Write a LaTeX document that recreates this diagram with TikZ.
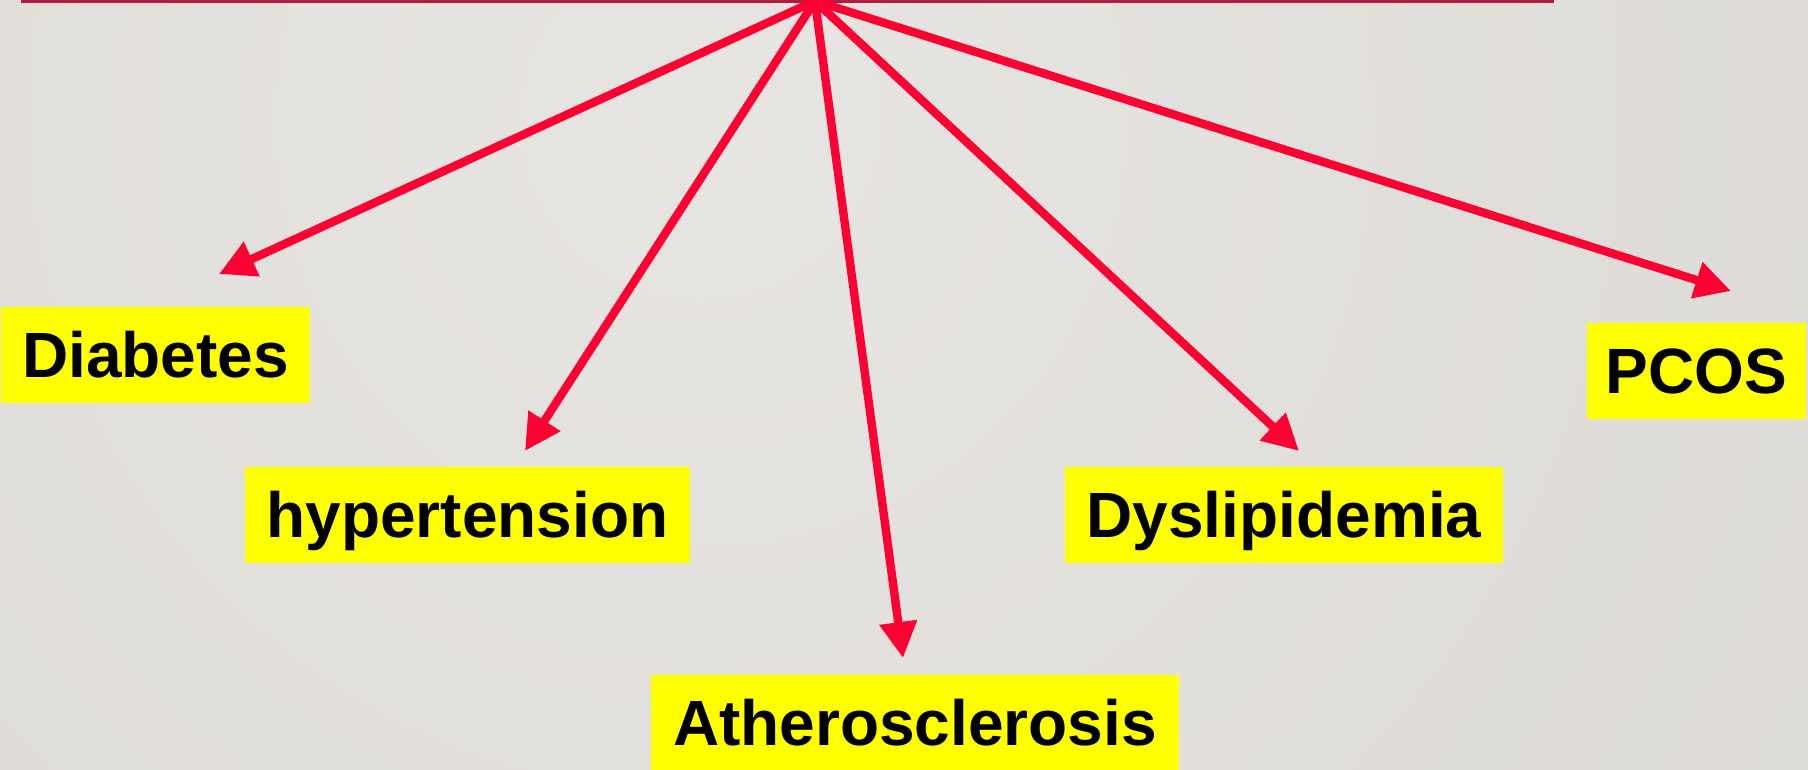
\documentclass[tikz,border=0pt]{standalone}
\usepackage{fontspec}
\setmainfont{Liberation Sans}
\definecolor{arrowred}{HTML}{FF0033}
\definecolor{barred}{HTML}{B31B3F}
\definecolor{boxyellow}{HTML}{FFFF00}
\definecolor{bglight}{HTML}{E7E5E1}
\definecolor{bgdark}{HTML}{D6D3CE}
\usetikzlibrary{
    arrows.meta,
    positioning,
}
\tikzset{
    >={Triangle[length=18pt,width=18pt]},
    disease/.style={fill=boxyellow,inner sep=0pt,minimum height=48pt,text height=22pt,text depth=0pt,font=\fontsize{32pt}{36pt}\selectfont\bfseries},
    link/.style={->,draw=arrowred,line width=4.2pt},
}

\begin{document}
\begin{tikzpicture}[x=0.5pt,y=-0.5pt]
    \useasboundingbox (0,0) rectangle (1808,770);
    \begin{scope}
        \clip (0,0) rectangle (1808,770);
        \shade[inner color=bglight,outer color=bgdark] (700,120) circle (1100pt);
    \end{scope}
    \draw[barred,line width=1.5pt] (21,1.5) -- (1554,1.5);

    \node[disease,minimum width=154.5pt] (diabetes) at (155.5,355) {Diabetes};
    \node[disease,minimum width=222.5pt] (hypertension) at (467.5,515) {hypertension};
    \node[disease,minimum width=264pt] (athero) at (915,723) {Atherosclerosis};
    \node[disease,minimum width=219pt] (dyslipid) at (1284,515) {Dyslipidemia};
    \node[disease,minimum width=109.5pt] (pcos) at (1696.5,371) {PCOS};

    \coordinate (hub) at (815,1);
    \coordinate (diabetestip) at (219,274);
    \coordinate (hypertensiontip) at (525,451);
    \coordinate (atherotip) at (903,658);
    \coordinate (dyslipidtip) at (1299,451);
    \coordinate (pcostip) at (1731,291);

    \draw[link] (hub) -- (diabetestip);
    \draw[link] (hub) -- (hypertensiontip);
    \draw[link] (hub) -- (atherotip);
    \draw[link] (hub) -- (dyslipidtip);
    \draw[link] (hub) -- (pcostip);
\end{tikzpicture}
\end{document}
